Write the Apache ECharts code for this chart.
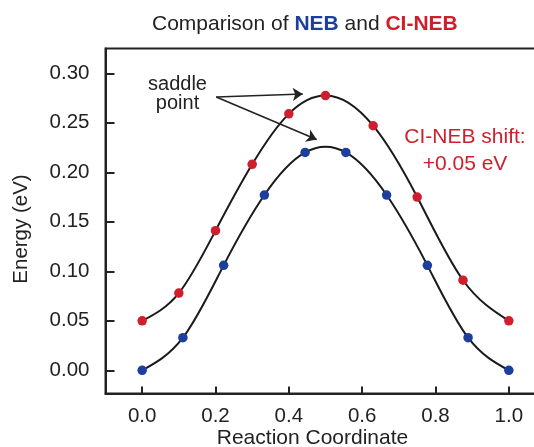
<!DOCTYPE html>
<html>
<head>
<meta charset="utf-8">
<script src="https://cdn.jsdelivr.net/npm/echarts@6/dist/echarts.min.js"></script>
<style>
  html, body { margin: 0; padding: 0; background: #fff; }
  #chart { width: 534px; height: 447px; }
</style>
</head>
<body>
<div id="chart"></div>
<script>
// Reaction path energies for plain NEB and climbing-image NEB
const nebCoord   = [0, 1/9, 2/9, 3/9, 4/9, 5/9, 6/9, 7/9, 8/9, 1];
const nebEnergy  = [0.000, 0.033, 0.106, 0.177, 0.220, 0.220, 0.177, 0.106, 0.033, 0.000];
const cinebCoord  = [0, 0.1, 0.2, 0.3, 0.4, 0.5, 0.63, 0.75, 0.875, 1.0];
const cinebEnergy = [0.050, 0.078, 0.141, 0.208, 0.259, 0.2775, 0.247, 0.175, 0.091, 0.050];

const xTicks = [0, 0.2, 0.4, 0.6, 0.8, 1.0];
const yTicks = [0, 0.05, 0.10, 0.15, 0.20, 0.25, 0.30];

// Arrow from the "saddle point" note to each barrier top (data coordinates)
const arrowStart = [0.202, 0.276];
const arrowEnds  = [[0.438, 0.279], [0.476, 0.233]];

const BLUE = '#1c3f9e';
const RED  = '#cf1f2c';
const INK  = '#222222';
const FONT = '"Liberation Sans", Arial, Helvetica, sans-serif';

const pair = (xs, ys) => xs.map((x, i) => [x, ys[i]]);

// Slopes of a natural cubic spline through the knots (xs, ys)
function splineSlopes(xs, ys) {
  const n = xs.length;
  const h = [], d = [];
  for (let i = 0; i < n - 1; i++) {
    h.push(xs[i + 1] - xs[i]);
    d.push((ys[i + 1] - ys[i]) / h[i]);
  }
  // second derivatives M, with M[0] = M[n-1] = 0 (Thomas algorithm)
  const M = new Array(n).fill(0);
  const a = [], b = [], c = [], r = [];
  for (let i = 1; i < n - 1; i++) {
    a.push(h[i - 1]); b.push(2 * (h[i - 1] + h[i])); c.push(h[i]);
    r.push(6 * (d[i] - d[i - 1]));
  }
  const m = b.length;
  for (let i = 1; i < m; i++) {
    const w = a[i] / b[i - 1];
    b[i] -= w * c[i - 1];
    r[i] -= w * r[i - 1];
  }
  const sol = new Array(m);
  for (let i = m - 1; i >= 0; i--) {
    sol[i] = (r[i] - (i < m - 1 ? c[i] * sol[i + 1] : 0)) / b[i];
  }
  for (let i = 0; i < m; i++) M[i + 1] = sol[i];
  const slopes = [];
  for (let i = 0; i < n - 1; i++) slopes.push(d[i] - h[i] * (2 * M[i] + M[i + 1]) / 6);
  slopes.push(d[n - 2] + h[n - 2] * (M[n - 2] + 2 * M[n - 1]) / 6);
  return slopes;
}

// Custom series that strokes a cubic-spline path through the knots as Bezier segments
function curveSeries(name, xs, ys) {
  const slopes = splineSlopes(xs, ys);
  return {
    name: name + ' path', type: 'custom', coordinateSystem: 'cartesian2d',
    data: [0], silent: true, z: 2,
    renderItem: function (params, api) {
      const P = (x, y) => api.coord([x, y]);
      let p0 = P(xs[0], ys[0]);
      let path = 'M' + p0[0] + ' ' + p0[1];
      for (let i = 0; i < xs.length - 1; i++) {
        const hh = xs[i + 1] - xs[i];
        const c1 = P(xs[i] + hh / 3, ys[i] + slopes[i] * hh / 3);
        const c2 = P(xs[i + 1] - hh / 3, ys[i + 1] - slopes[i + 1] * hh / 3);
        const p1 = P(xs[i + 1], ys[i + 1]);
        path += ' C' + c1[0] + ' ' + c1[1] + ' ' + c2[0] + ' ' + c2[1] + ' ' + p1[0] + ' ' + p1[1];
      }
      return {
        type: 'path',
        shape: { pathData: path },
        style: { fill: 'none', stroke: '#1a1a1a', lineWidth: 2 }
      };
    }
  };
}

const chart = echarts.init(document.getElementById('chart'), null, { renderer: 'canvas' });

chart.setOption({
  animation: false,
  backgroundColor: '#ffffff',
  textStyle: { fontFamily: FONT },
  title: {
    text: 'Comparison of {b|NEB} and {r|CI-NEB}',
    left: 147,
    top: 9,
    textStyle: {
      fontFamily: FONT, fontSize: 21, fontWeight: 'normal', color: INK,
      rich: {
        b: { fontFamily: FONT, fontSize: 21, fontWeight: 'bold', color: BLUE },
        r: { fontFamily: FONT, fontSize: 21, fontWeight: 'bold', color: RED }
      }
    }
  },
  grid: {
    left: 105.5, top: 48.5, width: 440, height: 345,
    outerBoundsMode: 'none', containLabel: false,
    show: true, borderColor: INK, borderWidth: 2, backgroundColor: 'transparent'
  },
  xAxis: {
    type: 'value', min: -0.1, max: 1.1,
    name: 'Reaction Coordinate', nameLocation: 'middle', nameGap: 34, nameMoveOverlap: false,
    nameTextStyle: { fontFamily: FONT, fontSize: 21, color: INK, padding: [0, 26, 0, 0] },
    axisLine: { show: true, onZero: false, lineStyle: { color: INK, width: 2 } },
    axisTick: { show: true, inside: true, length: 7, customValues: xTicks,
                lineStyle: { color: INK, width: 2 } },
    axisLabel: { customValues: xTicks, margin: 12, fontFamily: FONT, fontSize: 20.5, color: INK,
                 formatter: v => v.toFixed(1) },
    splitLine: { show: false }
  },
  yAxis: {
    type: 'value', min: -0.0234, max: 0.325,
    name: 'Energy (eV)', nameLocation: 'middle', nameGap: 74, nameRotate: 90, nameMoveOverlap: false,
    nameTextStyle: { fontFamily: FONT, fontSize: 20.5, color: INK, padding: [0, 16, 0, 0] },
    axisLine: { show: true, onZero: false, lineStyle: { color: INK, width: 2 } },
    axisTick: { show: true, inside: true, length: 9, customValues: yTicks,
                lineStyle: { color: INK, width: 2 } },
    axisLabel: { customValues: yTicks, margin: 16, fontFamily: FONT, fontSize: 20.5, color: INK,
                 formatter: v => v.toFixed(2) },
    splitLine: { show: false }
  },
  graphic: [
    {
      type: 'text', x: 177.5, y: 75, z: 10,
      style: { text: 'saddle\npoint', align: 'center', verticalAlign: 'top',
               font: '20px ' + FONT, fill: INK, lineHeight: 19 }
    },
    {
      type: 'text', x: 465, y: 124, z: 10,
      style: { text: 'CI-NEB shift:\n+0.05 eV', align: 'center', verticalAlign: 'top',
               font: '21px ' + FONT, fill: RED, lineHeight: 27 }
    }
  ],
  series: [
    curveSeries('NEB', nebCoord, nebEnergy),
    curveSeries('CI-NEB', cinebCoord, cinebEnergy),
    {
      name: 'NEB', type: 'scatter', data: pair(nebCoord, nebEnergy), z: 3,
      symbol: 'circle', symbolSize: 9.5,
      itemStyle: { color: BLUE, borderWidth: 0, opacity: 1 },
      emphasis: { disabled: true },
      markLine: {
        silent: true, animation: false,
        symbol: ['none', 'arrow'], symbolSize: 10,
        label: { show: false },
        lineStyle: { color: INK, width: 1.6, type: 'solid' },
        data: arrowEnds.map(end => [{ coord: arrowStart }, { coord: end }])
      }
    },
    {
      name: 'CI-NEB', type: 'scatter', data: pair(cinebCoord, cinebEnergy), z: 3,
      symbol: 'circle', symbolSize: 9.5,
      itemStyle: { color: RED, borderWidth: 0, opacity: 1 },
      emphasis: { disabled: true }
    }
  ]
});
</script>
</body>
</html>
